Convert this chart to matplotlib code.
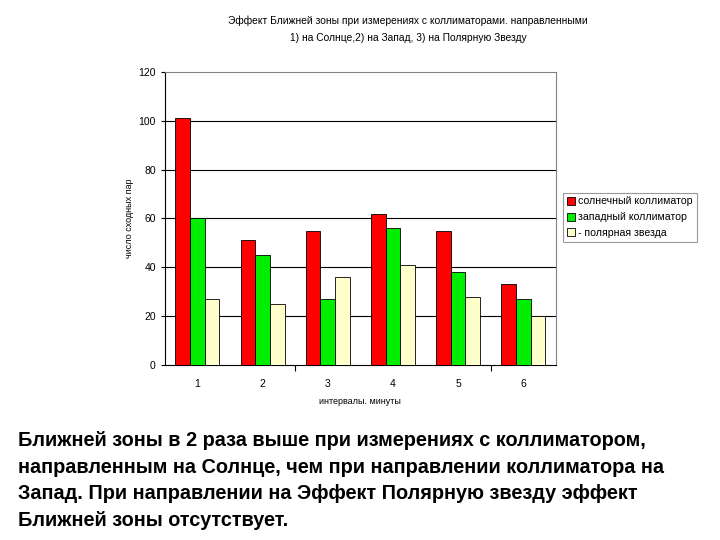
import numpy as np
import matplotlib
matplotlib.use("Agg")
import matplotlib.pyplot as plt

plt.rcParams["font.family"] = ["Liberation Sans", "DejaVu Sans"]

categories = ["1", "2", "3", "4", "5", "6"]
series_names = ["солнечный коллиматор", "западный коллиматор", "- полярная звезда"]
sun = [101, 51, 55, 62, 55, 33]
west = [60, 45, 27, 56, 38, 27]
polar = [27, 25, 36, 41, 28, 20]
colors = ["#FF0000", "#00EE00", "#FFFFCC"]

title = ("Эффект Ближней зоны при измерениях с коллиматорами. направленными\n"
         "1) на Солнце,2) на Запад, 3) на Полярную Звезду")
caption = ("Ближней зоны в 2 раза выше при измерениях с коллиматором,\n"
           "направленным на Солнце, чем при направлении коллиматора на\n"
           "Запад. При направлении на Эффект Полярную звезду эффект\n"
           "Ближней зоны отсутствует.")

fig = plt.figure(figsize=(7.2, 5.4), dpi=100)
ax = fig.add_axes([0.229, 0.324, 0.543, 0.543])

x = np.arange(len(categories))
w = 0.225
for k, vals in enumerate([sun, west, polar]):
    ax.bar(x + (k - 1) * w, vals, w, color=colors[k], edgecolor="black",
           linewidth=0.6, label=series_names[k], zorder=3)

ax.set_xlim(-0.5, len(categories) - 0.5)
ax.set_ylim(0, 120)
ax.set_yticks(range(0, 121, 20))
ax.set_xticks(x)
ax.set_xticklabels(categories)
ax.tick_params(axis="x", length=0, labelsize=7.5, pad=10)
ax.tick_params(axis="y", length=3, labelsize=7.5, width=0.8)
ax.set_xticks([1.5, 4.5], minor=True)
ax.tick_params(axis="x", which="minor", length=4, width=0.8)
for v in range(20, 101, 20):
    ax.axhline(v, color="black", lw=0.8, zorder=1)
for s in ["top", "right"]:
    ax.spines[s].set_color("#808080")
for s in ["left", "bottom"]:
    ax.spines[s].set_color("black")
ax.set_xlabel("интервалы. минуты", fontsize=6.5, labelpad=6)
ax.set_ylabel("число сходных пар", fontsize=6.5, labelpad=3)

leg = fig.legend(loc="upper left", bbox_to_anchor=(0.782, 0.643), fontsize=7.6,
                 frameon=True, fancybox=False, edgecolor="#808080",
                 handlelength=0.8, handleheight=0.8, handletextpad=0.3,
                 borderpad=0.35, labelspacing=0.55, borderaxespad=0)
leg.get_frame().set_linewidth(0.8)

fig.text(0.567, 0.946, title, ha="center", va="center", fontsize=7.4,
         linespacing=1.9)
fig.text(0.025, 0.11, caption, ha="left", va="center", fontsize=14.3,
         fontweight="bold", linespacing=1.5)

fig.savefig("out.png", dpi=100)
